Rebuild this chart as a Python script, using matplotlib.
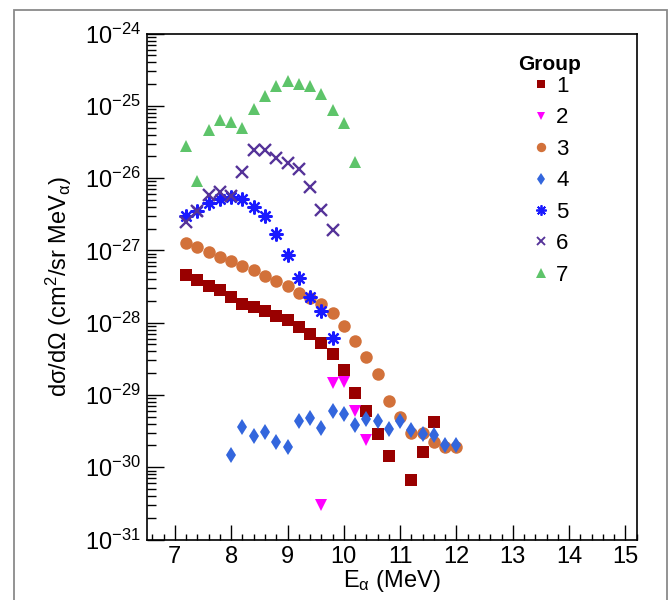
import matplotlib
matplotlib.use("Agg")
import matplotlib.pyplot as plt
from matplotlib.patches import Rectangle
from matplotlib.lines import Line2D
from matplotlib.ticker import FixedLocator, MultipleLocator, NullFormatter
import numpy as np

plt.rcParams['font.family'] = ['Liberation Sans', 'DejaVu Sans']
plt.rcParams['mathtext.fontset'] = 'custom'
plt.rcParams['mathtext.rm'] = 'Liberation Sans'
plt.rcParams['mathtext.it'] = 'Liberation Sans'
plt.rcParams['mathtext.bf'] = 'Liberation Sans:bold'

# ---- data ----
g1_E = [7.2, 7.4, 7.6, 7.8, 8.0, 8.2, 8.4, 8.6, 8.8, 9.0, 9.2, 9.4, 9.6, 9.8, 10.0, 10.2, 10.4, 10.6, 10.8, 11.2, 11.4, 11.6]
g1_y = [4.6e-28, 3.9e-28, 3.25e-28, 2.8e-28, 2.24e-28, 1.8e-28, 1.63e-28, 1.44e-28, 1.22e-28, 1.1e-28,
        8.7e-29, 6.9e-29, 5.3e-29, 3.65e-29, 2.22e-29, 1.08e-29, 6.0e-30, 2.9e-30, 1.42e-30, 6.7e-31, 1.64e-30, 4.2e-30]

g2_E = [9.6, 9.8, 10.0, 10.2, 10.4]
g2_y = [3.0e-31, 1.45e-29, 1.5e-29, 6.0e-30, 2.35e-30]

g3_E = [7.2, 7.4, 7.6, 7.8, 8.0, 8.2, 8.4, 8.6, 8.8, 9.0, 9.2, 9.4, 9.6, 9.8, 10.0, 10.2, 10.4, 10.6, 10.8,
        11.0, 11.2, 11.4, 11.6, 11.8, 12.0]
g3_y = [1.28e-27, 1.11e-27, 9.5e-28, 8.2e-28, 7.1e-28, 6.1e-28, 5.3e-28, 4.4e-28, 3.8e-28, 3.2e-28,
        2.6e-28, 2.2e-28, 1.8e-28, 1.35e-28, 9.1e-29, 5.6e-29, 3.4e-29, 1.95e-29, 8.3e-30,
        5.0e-30, 2.93e-30, 2.93e-30, 2.2e-30, 1.9e-30, 1.9e-30]

g4_E = [8.0, 8.2, 8.4, 8.6, 8.8, 9.0, 9.2, 9.4, 9.6, 9.8, 10.0, 10.2, 10.4, 10.6, 10.8, 11.0, 11.2, 11.4, 11.6, 11.8, 12.0]
g4_y = [1.48e-30, 3.55e-30, 2.7e-30, 3.1e-30, 2.2e-30, 1.9e-30, 4.3e-30, 4.8e-30, 3.5e-30, 6.0e-30, 5.5e-30,
        3.8e-30, 4.6e-30, 4.4e-30, 3.4e-30, 4.3e-30, 3.3e-30, 2.9e-30, 2.8e-30, 2.0e-30, 2.0e-30]

g5_E = [7.2, 7.4, 7.6, 7.8, 8.0, 8.2, 8.4, 8.6, 8.8, 9.0, 9.2, 9.4, 9.6, 9.8]
g5_y = [2.95e-27, 3.55e-27, 4.45e-27, 5.1e-27, 5.5e-27, 5.1e-27, 4.0e-27, 3.0e-27, 1.7e-27, 8.7e-28,
        4.1e-28, 2.23e-28, 1.44e-28, 6.1e-29]

g6_E = [7.2, 7.4, 7.6, 7.8, 8.0, 8.2, 8.4, 8.6, 8.8, 9.0, 9.2, 9.4, 9.6, 9.8]
g6_y = [2.5e-27, 3.5e-27, 5.9e-27, 6.4e-27, 5.6e-27, 1.2e-26, 2.45e-26, 2.45e-26, 1.9e-26, 1.6e-26,
        1.35e-26, 7.6e-27, 3.6e-27, 1.94e-27]

g7_E = [7.2, 7.4, 7.6, 7.8, 8.0, 8.2, 8.4, 8.6, 8.8, 9.0, 9.2, 9.4, 9.6, 9.8, 10.0, 10.2]
g7_y = [2.8e-26, 9.0e-27, 4.6e-26, 6.4e-26, 5.9e-26, 4.9e-26, 8.9e-26, 1.38e-25, 1.9e-25, 2.23e-25,
        2.0e-25, 1.9e-25, 1.47e-25, 8.7e-26, 5.7e-26, 1.67e-26]

group_labels = ['1', '2', '3', '4', '5', '6', '7']
legend_title = 'Group'
y_exponents = [-31, -30, -29, -28, -27, -26, -25, -24]

# ---- styles ----
styles = [
    dict(marker='s', color='#990000', ms=8, mew=0),
    dict(marker='v', color='#ff00ff', ms=8, mew=0),
    dict(marker='o', color='#d2713a', ms=9, mew=0),
    dict(marker='d', color='#3366dd', ms=8, mew=0),
    dict(marker=(8, 2, 0), color='#1a1aff', ms=10, mew=1.6),
    dict(marker='x', color='#553399', ms=8.5, mew=1.7),
    dict(marker='^', color='#5ec46a', ms=9, mew=0),
]
series = [(g1_E, g1_y), (g2_E, g2_y), (g3_E, g3_y), (g4_E, g4_y),
          (g5_E, g5_y), (g6_E, g6_y), (g7_E, g7_y)]

fig = plt.figure(figsize=(6.69, 6.0), dpi=100)
W, H = 669, 600
ax = fig.add_axes([146.7 / W, 1 - 539.5 / H, (636.7 - 146.7) / W, (539.5 - 33.5) / H])

# outer gray frame
fig.patches.append(Rectangle((14 / W, -0.05), (667 - 14) / W, (600 - 10) / H + 0.05,
                             transform=fig.transFigure, fill=False,
                             edgecolor='#8a8a8a', linewidth=1.3))

zorders = [3, 3, 3, 3, 4, 5, 3]
for (E, y), st, z in zip(series, styles, zorders):
    ax.plot(E, y, linestyle='none', marker=st['marker'], color=st['color'],
            markersize=st['ms'], markeredgewidth=st['mew'], zorder=z)

ax.set_yscale('log')
ax.set_xlim(6.5, 15.2)
ax.set_ylim(1e-31, 1e-24)

ax.xaxis.set_major_locator(MultipleLocator(1))
ax.xaxis.set_minor_locator(MultipleLocator(0.2))
major_y = [10.0 ** e for e in y_exponents]
minor_y = [m * 10.0 ** e for e in y_exponents[:-1] for m in range(2, 10)]
ax.yaxis.set_major_locator(FixedLocator(major_y))
ax.yaxis.set_minor_locator(FixedLocator(minor_y))
ax.yaxis.set_major_formatter(matplotlib.ticker.FixedFormatter(
    [r'$\mathdefault{10^{%d}}$' % e for e in y_exponents]))
ax.yaxis.set_minor_formatter(NullFormatter())

ax.tick_params(axis='x', which='major', direction='in', length=10.5, width=1.0, labelsize=17, pad=5,
               top=False)
ax.tick_params(axis='x', which='minor', direction='in', length=4.5, width=1.0, top=False)
ax.tick_params(axis='y', which='major', direction='in', length=12, width=1.0, labelsize=17, pad=4,
               right=False)
ax.tick_params(axis='y', which='minor', direction='in', length=6.5, width=1.0, right=False)

for sp in ax.spines.values():
    sp.set_linewidth(1.2)

ax.set_xlabel(r'E$_{\alpha}$ (MeV)', fontsize=17, labelpad=0)
ax.set_ylabel(r'd$\sigma$/d$\Omega$ (cm$^{2}$/sr MeV$_{\alpha}$)', fontsize=17, labelpad=8)

fig.text(550 / W, 1 - 65 / H, legend_title, ha='center', va='center',
         fontsize=15, fontweight='bold')
handles = [Line2D([], [], linestyle='none', marker=st['marker'], color=st['color'],
                  markersize=st['ms'] * 0.75, markeredgewidth=st['mew'] * 0.8)
           for st in styles]
leg = ax.legend(handles, group_labels, loc='upper left',
                bbox_to_anchor=(533 / W, 1 - 76 / H), bbox_transform=fig.transFigure,
                frameon=False, fontsize=16, handlelength=0.7, handletextpad=0.35,
                labelspacing=0.47, borderpad=0, borderaxespad=0)

fig.savefig('out.png', dpi=100)
